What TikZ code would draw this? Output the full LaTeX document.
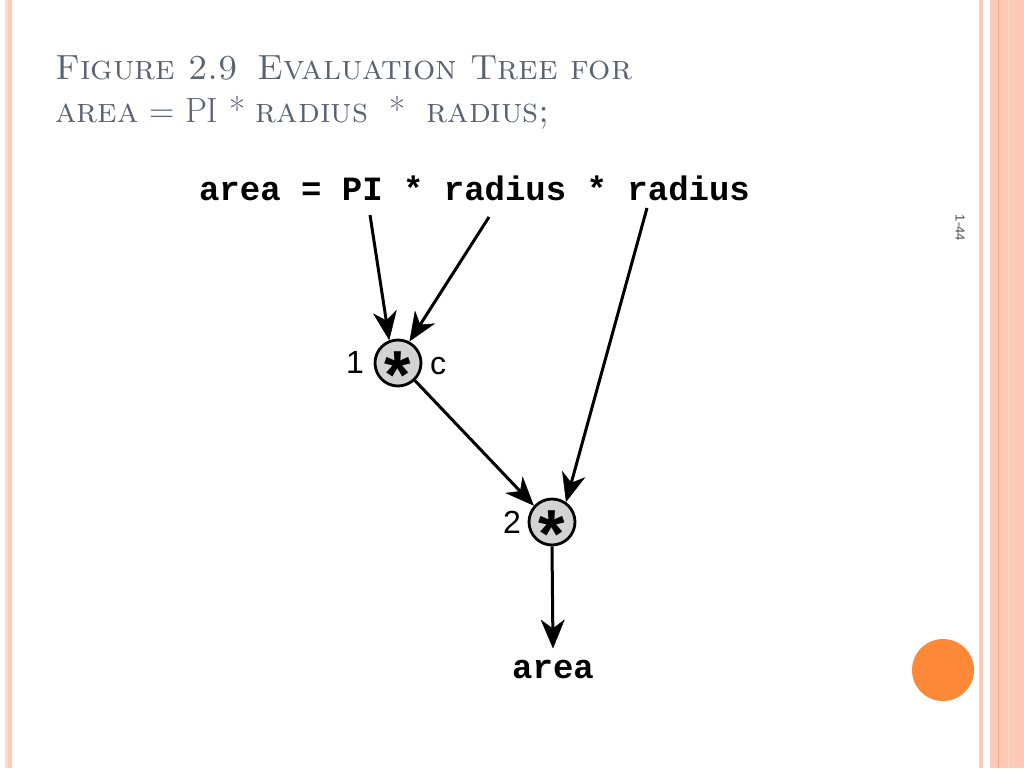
\documentclass[tikz,border=0pt]{standalone}
\usepackage{fontspec}
\newfontfamily\monof{Liberation Mono}
\newfontfamily\sansf{Liberation Sans}
\usetikzlibrary{arrows.meta}
\definecolor{titlegray}{HTML}{5B6272}
\definecolor{salmon}{HTML}{FCCAB6}
\definecolor{salmondark}{HTML}{F2A888}
\definecolor{palesalmon}{HTML}{F9DCCB}
\definecolor{dotorange}{HTML}{FD8838}
\definecolor{nodegray}{HTML}{D3D3D3}
\tikzset{
  code/.style={font=\monof\bfseries\fontsize{34}{34}\selectfont, inner sep=0pt},
  opnode/.style={circle, draw=black, line width=2.8pt, fill=nodegray, minimum size=46pt, inner sep=0pt},
  star/.style={font=\sansf\bfseries\fontsize{68}{68}\selectfont, inner sep=0pt},
  lbl/.style={font=\sansf\fontsize{32}{32}\selectfont, inner sep=0pt},
  conn/.style={line width=3pt, -{Stealth[length=29pt, width=24pt, inset=9pt, line width=0.5pt]}},
  titletext/.style={font=\rmfamily\fontsize{35}{35}\selectfont, text=titlegray, anchor=base west, inner sep=0pt}
}
\begin{document}
\begin{tikzpicture}[x=1pt, y=-1pt]
\useasboundingbox (0,0) rectangle (1024,768);
\fill[white] (0,0) rectangle (1024,768);
% left border stripes
\fill[palesalmon] (5,0) rectangle (8,768);
\fill[salmon] (8,0) rectangle (12,768);
% right border stripes
\fill[salmon] (979,0) rectangle (983,768);
\fill[salmon] (990,0) rectangle (1024,768);
\fill[salmondark] (997.5,0) rectangle (999,768);
\fill[palesalmon!60!salmon] (1007.5,0) rectangle (1008.5,768);
% orange dot
\fill[dotorange] (943,670) circle (31);
% page number
\node[font=\sansf\fontsize{13}{13}\selectfont, text=black!70, rotate=-90] (pnum) at (960,228) {1-44};
% title
\node[titletext] (t1) at (55,79) {\textsc{Figure 2.9\hspace{0.55em}Evaluation Tree for}};
\node[titletext] (t2) at (55,122) {\textsc{area} = PI * \textsc{radius}\ \ *\ \ \textsc{radius;}};
% expression
\node[code] (expr) at (474.5,188) {area = PI * radius * radius};
\coordinate (sPI) at (370,215);
\coordinate (sR1) at (489,217);
\coordinate (sR2) at (647,208);
% operator nodes
\node[opnode] (c1) at (398,363) {};
\node[star] (a1) at ([yshift=-12pt]c1.center) {*};
\node[opnode] (c2) at (552,522) {};
\node[star] (a2) at ([yshift=-12pt]c2.center) {*};
\node[lbl] (l1) at (355,362) {1};
\node[lbl] (lc) at (438,366) {c};
\node[lbl] (l2) at (512,522) {2};
% result
\node[code] (res) at (553,670) {area};
% connectors
\draw[conn] (sPI) -- (c1.111);
\draw[conn] (sR1) -- (c1.62);
\draw[conn] (c1.-46) -- (c2.138);
\draw[conn] (sR2) -- (c2.55);
\draw[conn] (c2.south) -- ([yshift=12pt]res.north);
\end{tikzpicture}
\end{document}
